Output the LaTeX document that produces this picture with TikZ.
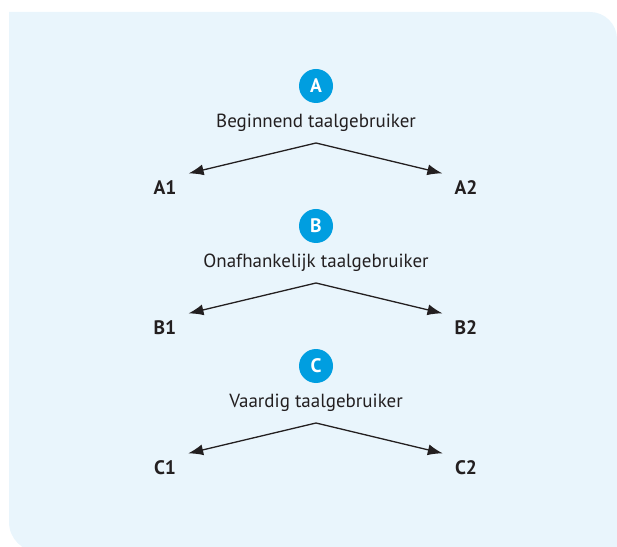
\documentclass[tikz,border=0pt]{standalone}
\usepackage{fontspec}
\setmainfont{PT Sans}
\usepackage{xcolor}
\usetikzlibrary{positioning,arrows.meta}
\definecolor{panelblue}{RGB}{233,245,252}
\definecolor{badgeblue}{RGB}{0,158,224}
\definecolor{inkgrey}{RGB}{35,31,32}
\begin{document}
\begin{tikzpicture}[x=1pt,y=1pt,
		badge/.style={circle, fill=badgeblue, text=white, minimum size=34pt, inner sep=0pt,
		font=\fontsize{19.5}{22}\selectfont\bfseries},
		stage/.style={anchor=base, text=inkgrey, inner sep=0pt, font=\fontsize{19}{22}\selectfont},
		level/.style={anchor=base, text=inkgrey, inner xsep=12pt, inner ysep=7pt,
		font=\fontsize{19.5}{22}\selectfont\bfseries},
		split/.style={-{Latex[length=15pt,width=11pt]}, line width=1.3pt, draw=inkgrey}]
		\useasboundingbox (0,0) rectangle (617,546);
		\fill[panelblue] (617,-6) -- (617,507) arc[start angle=0, end angle=90, radius=27]
			-- (9,534) -- (9,24) arc[start angle=180, end angle=270, radius=30] -- cycle;
		% A
		\node[badge] (badgeA) at (316,460) {A};
		\node[stage] (stageA) at (316,418.3) {Beginnend taalgebruiker};
		\coordinate (forkA) at ([yshift=-15.3pt]stageA.base);
		\node[level] (A1) at (165,351.5) {A1};
		\node[level] (A2) at (466,351.5) {A2};
		\draw[split] (forkA) -- (A1.north east);
		\draw[split] (forkA) -- (A2.north west);
		% B
		\node[badge] (badgeB) at (316,320) {B};
		\node[stage] (stageB) at (316,278.3) {Onafhankelijk taalgebruiker};
		\coordinate (forkB) at ([yshift=-15.3pt]stageB.base);
		\node[level] (B1) at (165,211.5) {B1};
		\node[level] (B2) at (466,211.5) {B2};
		\draw[split] (forkB) -- (B1.north east);
		\draw[split] (forkB) -- (B2.north west);
		% C
		\node[badge] (badgeC) at (316,180) {C};
		\node[stage] (stageC) at (316,138.3) {Vaardig taalgebruiker};
		\coordinate (forkC) at ([yshift=-15.3pt]stageC.base);
		\node[level] (C1) at (165,71.5) {C1};
		\node[level] (C2) at (466,71.5) {C2};
		\draw[split] (forkC) -- (C1.north east);
		\draw[split] (forkC) -- (C2.north west);
	\end{tikzpicture}
\end{document}
